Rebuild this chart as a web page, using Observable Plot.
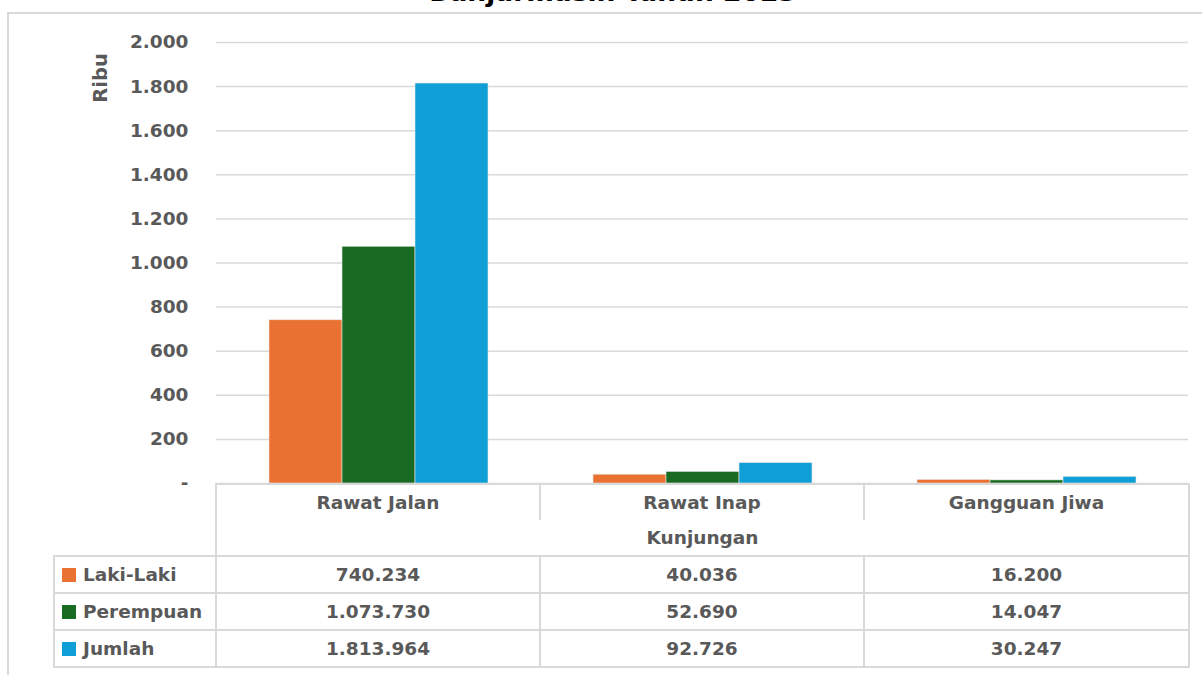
<!DOCTYPE html>
<html>
<head>
<meta charset="utf-8">
<script src="https://cdn.jsdelivr.net/npm/d3@7"></script>
<script src="https://cdn.jsdelivr.net/npm/@observablehq/plot@0.6"></script>
<style>
  html, body { margin: 0; padding: 0; background: #fff; }
  #wrap { position: relative; width: 1202px; height: 675px; overflow: hidden; font-family: "DejaVu Sans", sans-serif; }
  #frame { position: absolute; left: 7px; top: 12px; width: 1210px; height: 700px; border: 2px solid #d9d9d9; box-sizing: border-box; }
  #title { position: absolute; left: 12px; width: 1202px; top: -24px; text-align: center; font-family: "DejaVu Sans", sans-serif; font-weight: 700; font-size: 26.5px; color: #000; line-height: 32px; white-space: nowrap; }
  #chart { position: absolute; left: 0; top: 0; }
  #ribu { position: absolute; left: 100px; top: 78px; transform: translate(-50%, -50%) rotate(-90deg); font-weight: 700; font-size: 19.5px; color: #595959; white-space: nowrap; }
  #tbl { position: absolute; left: 53px; top: 483px; border-collapse: collapse; table-layout: fixed; font-weight: 700; font-size: 18.5px; color: #595959; }
  #tbl td { height: 35px; padding: 0; text-align: center; border: 2px solid #d9d9d9; white-space: nowrap; }
  #tbl td.blank { border: none; }
  #tbl tr.cats td.cat { border-bottom: none; }
  #tbl tr.kun td { border-top: none; }
  #tbl td.lab { text-align: left; padding-left: 7px; }
  .sw { display: inline-block; width: 14px; height: 14px; margin-right: 7px; vertical-align: -1px; }
</style>
</head>
<body>
<div id="wrap">
  <div id="frame"></div>
  <div id="title">Banjarmasin Tahun 2023</div>
  <div id="chart"></div>
  <div id="ribu">Ribu</div>
  <table id="tbl"></table>
</div>
<script>
const categories = ["Rawat Jalan", "Rawat Inap", "Gangguan Jiwa"];
const seriesNames = ["Laki-Laki", "Perempuan", "Jumlah"];
const lakiLaki = [740234, 40036, 16200];
const perempuan = [1073730, 52690, 14047];
const jumlah = [1813964, 92726, 30247];
const seriesColors = ["#E97132", "#196B24", "#0F9ED5"];
const yTicks = [0, 200, 400, 600, 800, 1000, 1200, 1400, 1600, 1800, 2000];
const axisTitle = "Kunjungan";
const yUnit = "Ribu";

const seriesValues = [lakiLaki, perempuan, jumlah];
const data = categories.flatMap((c, i) =>
  seriesNames.map((s, j) => ({ category: c, series: s, value: seriesValues[j][i] / 1000 }))
);

const fmtId = v => d3.format(",")(v).replace(/,/g, ".");

const chart = Plot.plot({
  width: 1202,
  height: 675,
  marginLeft: 215,
  marginRight: 14,
  marginTop: 42,
  marginBottom: 192,
  style: { fontFamily: "'DejaVu Sans', sans-serif", background: "transparent" },
  fx: { domain: categories, padding: 0, axis: null, label: null },
  x: { domain: seriesNames, paddingInner: 0, paddingOuter: 0.7, axis: null },
  y: { domain: [0, 2000], label: null },
  color: { domain: seriesNames, range: seriesColors },
  marks: [
    Plot.gridY(yTicks, { stroke: "#d9d9d9", strokeOpacity: 1, strokeWidth: 1.5 }),
    Plot.barY(data, { fx: "category", x: "series", y: "value", fill: "series", stroke: "#e8e8e8", strokeWidth: 0.6 }),
    Plot.axisY(yTicks, {
      tickSize: 0,
      tickPadding: 28,
      tickFormat: d => d === 0 ? "-" : fmtId(d),
      fontSize: 18.5,
      fontWeight: 700,
      fill: "#595959",
      label: null
    })
  ]
});
document.getElementById("chart").appendChild(chart);
document.getElementById("ribu").textContent = yUnit;

// data table below the plot
const tbl = document.getElementById("tbl");
const colgroup = document.createElement("colgroup");
[162, 324, 324, 325].forEach(w => { const c = document.createElement("col"); c.style.width = w + "px"; colgroup.appendChild(c); });
tbl.appendChild(colgroup);

const r1 = document.createElement("tr"); r1.className = "cats";
r1.innerHTML = '<td class="blank"></td>' + categories.map(c => `<td class="cat">${c}</td>`).join("");
tbl.appendChild(r1);
const r2 = document.createElement("tr"); r2.className = "kun";
r2.innerHTML = `<td class="blank"></td><td colspan="3">${axisTitle}</td>`;
tbl.appendChild(r2);
seriesNames.forEach((s, j) => {
  const tr = document.createElement("tr");
  tr.innerHTML = `<td class="lab"><span class="sw" style="background:${seriesColors[j]}"></span>${s}</td>` +
    seriesValues[j].map(v => `<td>${fmtId(v)}</td>`).join("");
  tbl.appendChild(tr);
});
</script>
</body>
</html>
